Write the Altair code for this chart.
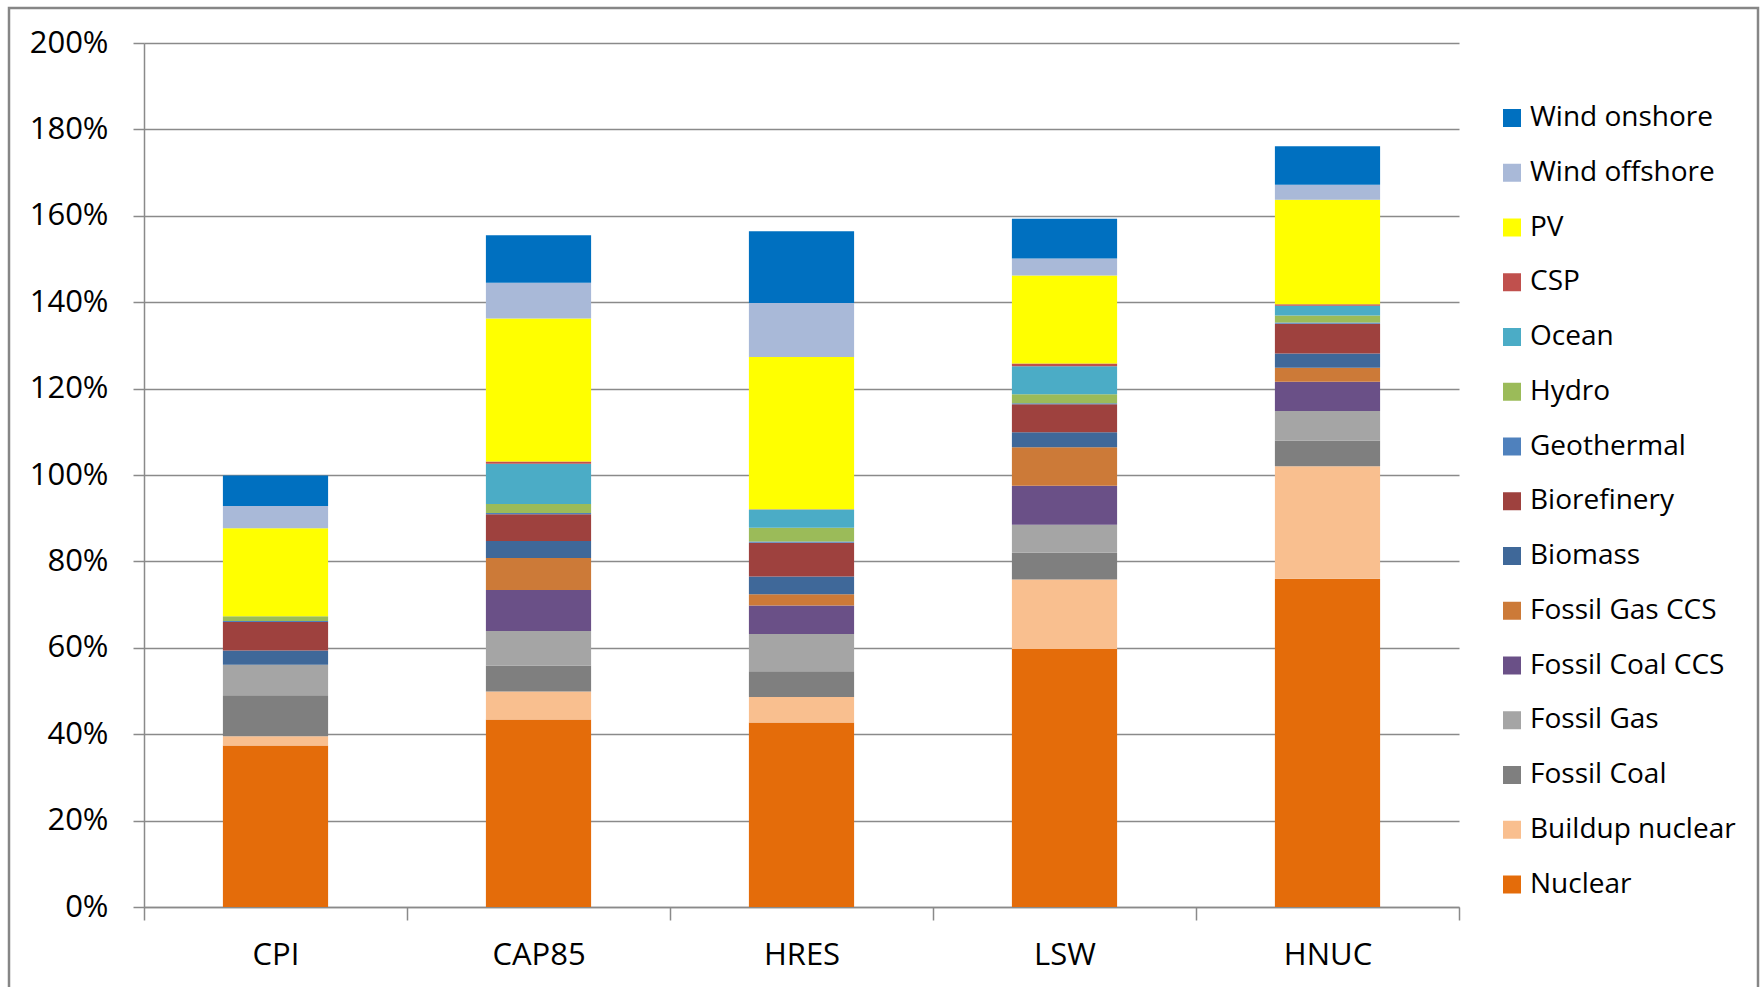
import altair as alt
import pandas as pd

scenarios = ["CPI", "CAP85", "HRES", "LSW", "HNUC"]

# bottom to top stacking order
series = ["Nuclear", "Buildup nuclear", "Fossil Coal", "Fossil Gas", "Fossil Coal CCS",
          "Fossil Gas CCS", "Biomass", "Biorefinery", "Geothermal", "Hydro", "Ocean",
          "CSP", "PV", "Wind offshore", "Wind onshore"]

nuclear         = [37.4, 43.4, 42.7, 59.7, 76.0]
buildup_nuclear = [2.1, 6.5, 5.9, 16.1, 26.0]
fossil_coal     = [9.5, 6.0, 6.0, 6.2, 6.0]
fossil_gas      = [7.1, 8.0, 8.6, 6.5, 6.8]
fossil_coal_ccs = [0.0, 9.5, 6.6, 9.0, 6.8]
fossil_gas_ccs  = [0.0, 7.4, 2.6, 8.9, 3.2]
biomass         = [3.3, 3.9, 4.1, 3.5, 3.3]
biorefinery     = [6.6, 6.2, 7.8, 6.5, 6.9]
geothermal      = [0.2, 0.3, 0.3, 0.2, 0.3]
hydro           = [1.1, 2.1, 3.2, 2.1, 1.6]
ocean           = [0.0, 9.3, 4.2, 6.5, 2.3]
csp             = [0.0, 0.5, 0.1, 0.6, 0.3]
pv              = [20.4, 33.1, 35.2, 20.4, 24.2]
wind_offshore   = [5.1, 8.3, 12.5, 3.9, 3.5]
wind_onshore    = [7.1, 11.0, 16.6, 9.2, 8.9]

values = [nuclear, buildup_nuclear, fossil_coal, fossil_gas, fossil_coal_ccs,
          fossil_gas_ccs, biomass, biorefinery, geothermal, hydro, ocean,
          csp, pv, wind_offshore, wind_onshore]

colors = ["#E46C0A", "#F9BF8F", "#7F7F7F", "#A5A5A5", "#6A5087",
          "#CC7A38", "#3F6899", "#9E413E", "#4F81BD", "#9BBB59", "#4BACC6",
          "#C0504D", "#FFFF00", "#A9B9D8", "#0070C0"]

y_ticks = list(range(0, 201, 20))

rows = []
for si, (name, vals) in enumerate(zip(series, values)):
    for sc, v in zip(scenarios, vals):
        rows.append({"scenario": sc, "series": name, "value": v, "order": si})
df = pd.DataFrame(rows)

FONT = "Open Sans"
W, H = 1315, 864

bars = alt.Chart(df).mark_bar(width=alt.RelativeBandSize(0.4)).encode(
    x=alt.X("scenario:N", sort=scenarios, title=None,
            scale=alt.Scale(paddingInner=0, paddingOuter=0),
            axis=alt.Axis(tickBand="extent", labelAngle=0, labelFontSize=31,
                          labelFont=FONT, labelColor="#000000", tickSize=13,
                          labelPadding=20, tickColor="#8A8A8A", tickWidth=1.5,
                          domainColor="#8A8A8A", domainWidth=1.5, grid=False)),
    y=alt.Y("value:Q", stack="zero", title=None,
            scale=alt.Scale(domain=[0, 200], nice=False),
            axis=alt.Axis(values=y_ticks, labelExpr="datum.value + '%'",
                          labelFontSize=31, labelFont=FONT, labelColor="#000000",
                          tickSize=11, labelPadding=25, tickColor="#8A8A8A",
                          tickWidth=1.5, domainColor="#8A8A8A", domainWidth=1.5,
                          grid=True, gridColor="#8A8A8A", gridWidth=1.5)),
    color=alt.Color("series:N",
                    scale=alt.Scale(domain=series[::-1], range=colors[::-1]),
                    legend=alt.Legend(title=None, orient="none", legendX=1354,
                                      legendY=61, symbolType="square",
                                      symbolSize=324, symbolStrokeWidth=0,
                                      labelFontSize=28, labelFont=FONT,
                                      labelColor="#000000", labelOffset=4,
                                      rowPadding=26.75, padding=0,
                                      labelLimit=400)),
    order=alt.Order("order:Q", sort="ascending"),
)

frame = alt.Chart(pd.DataFrame({"a": [0]})).mark_rect(
    fill=None, stroke="#868686", strokeWidth=2.5
).encode(
    x=alt.value(-135), x2=alt.value(W + 299),
    y=alt.value(-35), y2=alt.value(H + 150),
)

chart = alt.layer(bars, frame).properties(
    width=W, height=H,
    autosize=alt.AutoSizeParams(type="none"),
    padding={"left": 144, "top": 43, "right": 303, "bottom": 80},
    background="#FFFFFF",
).configure_view(stroke=None)

chart.save("out.html", embed_options={"renderer": "svg", "actions": False})
